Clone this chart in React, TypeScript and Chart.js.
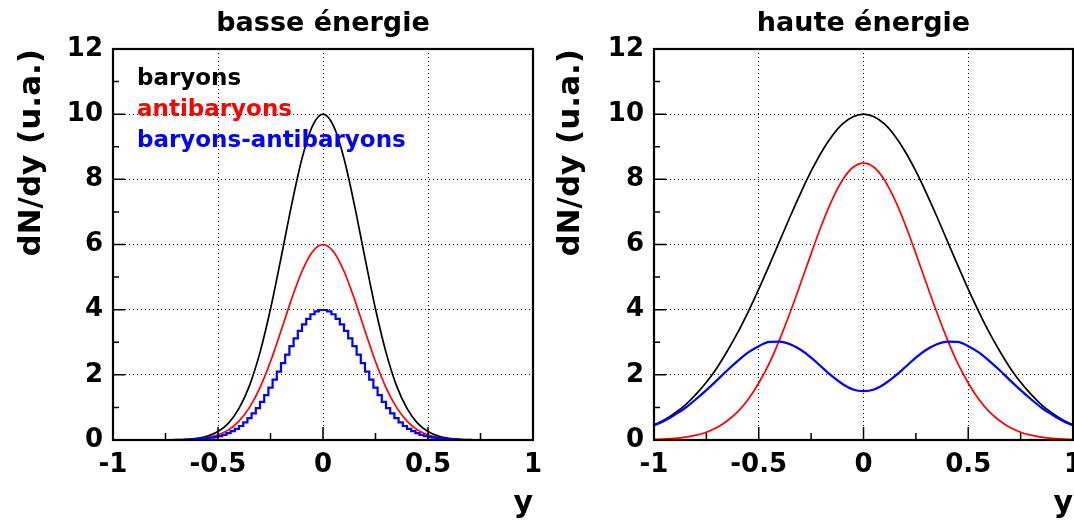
import React, { useEffect, useRef } from "react";
import { Chart, registerables } from "chart.js";

Chart.register(...registerables);

const FONT = "'DejaVu Sans', sans-serif";

// ---------- data ----------
const rapidity = [
  -1, -0.95, -0.9, -0.85, -0.8, -0.75, -0.7, -0.65, -0.6, -0.55, -0.5, -0.45, -0.4, -0.35, -0.3, -0.25, -0.2, -0.15, -0.1, -0.05,
  0, 0.05, 0.1, 0.15, 0.2, 0.25, 0.3, 0.35, 0.4, 0.45, 0.5, 0.55, 0.6, 0.65, 0.7, 0.75, 0.8, 0.85, 0.9, 0.95, 1,
];

// basse énergie
const lowBaryons = [
  0, 0, 0, 0, 0, 0, 0.01, 0.02, 0.05, 0.12, 0.26, 0.52, 0.97, 1.67, 2.69, 4.02, 5.58, 7.2, 8.64, 9.64,
  10, 9.64, 8.64, 7.2, 5.58, 4.02, 2.69, 1.67, 0.97, 0.52, 0.26, 0.12, 0.05, 0.02, 0.01, 0, 0, 0, 0, 0, 0,
];
const lowAntibaryons = [
  0, 0, 0, 0, 0, 0, 0.005, 0.01, 0.03, 0.07, 0.16, 0.31, 0.58, 1.0, 1.61, 2.41, 3.35, 4.32, 5.18, 5.78,
  6, 5.78, 5.18, 4.32, 3.35, 2.41, 1.61, 1.0, 0.58, 0.31, 0.16, 0.07, 0.03, 0.01, 0.005, 0, 0, 0, 0, 0, 0,
];
const lowNetBins = [
  -1, -0.67, -0.65, -0.63, -0.61, -0.59, -0.57, -0.55, -0.53, -0.51, -0.49, -0.47, -0.45, -0.43, -0.41, -0.39, -0.37, -0.35,
  -0.33, -0.31, -0.29, -0.27, -0.25, -0.23, -0.21, -0.19, -0.17, -0.15, -0.13, -0.11, -0.09, -0.07, -0.05, -0.03, -0.01,
  0.01, 0.03, 0.05, 0.07, 0.09, 0.11, 0.13, 0.15, 0.17, 0.19, 0.21, 0.23, 0.25, 0.27, 0.29, 0.31, 0.33, 0.35, 0.37, 0.39,
  0.41, 0.43, 0.45, 0.47, 0.49, 0.51, 0.53, 0.55, 0.57, 0.59, 0.61, 0.63, 0.65, 0.67, 1,
];
const lowNet = [
  0, 0, 0.008, 0.012, 0.018, 0.025, 0.035, 0.05, 0.07, 0.09, 0.12, 0.16, 0.21, 0.27, 0.34, 0.43, 0.54, 0.67,
  0.82, 0.98, 1.17, 1.38, 1.61, 1.85, 2.1, 2.36, 2.62, 2.88, 3.12, 3.35, 3.55, 3.72, 3.86, 3.95, 3.99,
  3.99, 3.95, 3.86, 3.72, 3.55, 3.35, 3.12, 2.88, 2.62, 2.36, 2.1, 1.85, 1.61, 1.38, 1.17, 0.98, 0.82, 0.67, 0.54, 0.43,
  0.34, 0.27, 0.21, 0.16, 0.12, 0.09, 0.07, 0.05, 0.035, 0.025, 0.018, 0.012, 0.008, 0, 0,
];

// haute énergie
const highBaryons = [
  0.46, 0.62, 0.83, 1.08, 1.4, 1.77, 2.21, 2.73, 3.3, 3.94, 4.63, 5.36, 6.11, 6.86, 7.58, 8.25, 8.84, 9.33, 9.7, 9.92,
  10, 9.92, 9.7, 9.33, 8.84, 8.25, 7.58, 6.86, 6.11, 5.36, 4.63, 3.94, 3.3, 2.73, 2.21, 1.77, 1.4, 1.08, 0.83, 0.62, 0.46,
];
const highAntibaryons = [
  0.015, 0.03, 0.05, 0.09, 0.15, 0.24, 0.38, 0.59, 0.87, 1.25, 1.75, 2.35, 3.09, 3.92, 4.81, 5.72, 6.6, 7.37, 7.98, 8.37,
  8.5, 8.37, 7.98, 7.37, 6.6, 5.72, 4.81, 3.92, 3.09, 2.35, 1.75, 1.25, 0.87, 0.59, 0.38, 0.24, 0.15, 0.09, 0.05, 0.03, 0.015,
];
const highNet = [
  0.445, 0.59, 0.78, 0.99, 1.25, 1.53, 1.83, 2.14, 2.43, 2.69, 2.88, 3.01, 3.02, 2.94, 2.77, 2.53, 2.24, 1.96, 1.72, 1.55,
  1.5, 1.55, 1.72, 1.96, 2.24, 2.53, 2.77, 2.94, 3.02, 3.01, 2.88, 2.69, 2.43, 2.14, 1.83, 1.53, 1.25, 0.99, 0.78, 0.59, 0.445,
];

const xMajorTicks = [-1, -0.5, 0, 0.5, 1];
const xTickLabels = ["-1", "-0.5", "0", "0.5", "1"];
const xMinorTicks = [-0.75, -0.25, 0.25, 0.75];
const yMajorTicks = [0, 2, 4, 6, 8, 10, 12];
const yTickLabels = ["0", "2", "4", "6", "8", "10", "12"];
const yMinorTicks = [1, 3, 5, 7, 9, 11];

const seriesNames = ["baryons", "antibaryons", "baryons-antibaryons"];
const seriesColors = ["#000000", "#ff0000", "#0000ff"];

const yTitle = "dN/dy (u.a.)";
const xTitle = "y";

// ---------- helpers ----------
const pts = (xs: number[], ys: number[]) => xs.map((x, i) => ({ x, y: ys[i] }));

const framePlugin = {
  id: "rootFrame",
  afterDatasetsDraw(chart: any) {
    const { ctx, chartArea: a, scales } = chart;
    const sx = scales.x;
    const sy = scales.y;
    ctx.save();
    ctx.strokeStyle = "#000";
    ctx.lineWidth = 1.5;
    ctx.beginPath();
    xMajorTicks.forEach((v) => {
      const p = sx.getPixelForValue(v);
      ctx.moveTo(p, a.bottom);
      ctx.lineTo(p, a.bottom - 13);
    });
    xMinorTicks.forEach((v) => {
      const p = sx.getPixelForValue(v);
      ctx.moveTo(p, a.bottom);
      ctx.lineTo(p, a.bottom - 7);
    });
    yMajorTicks.forEach((v) => {
      const p = sy.getPixelForValue(v);
      ctx.moveTo(a.left, p);
      ctx.lineTo(a.left + 12, p);
    });
    yMinorTicks.forEach((v) => {
      const p = sy.getPixelForValue(v);
      ctx.moveTo(a.left, p);
      ctx.lineTo(a.left + 6, p);
    });
    ctx.stroke();
    ctx.lineWidth = 2.2;
    ctx.strokeRect(a.left, a.top, a.right - a.left, a.bottom - a.top);
    ctx.restore();
  },
};

const textLegendPlugin = {
  id: "textLegend",
  afterDraw(chart: any) {
    if (!chart.options.plugins.textLegend?.show) return;
    const { ctx, chartArea: a } = chart;
    ctx.save();
    ctx.font = `bold 23px ${FONT}`;
    ctx.textBaseline = "alphabetic";
    ctx.textAlign = "left";
    const offs = [36, 67, 98];
    seriesNames.forEach((n, i) => {
      ctx.fillStyle = seriesColors[i];
      ctx.fillText(n, a.left + 24, a.top + offs[i]);
    });
    ctx.restore();
  },
};

type PanelProps = {
  left: number;
  width: number;
  title: string;
  baryons: { x: number; y: number }[];
  anti: { x: number; y: number }[];
  net: { x: number; y: number }[];
  netStepped: boolean;
  yAxisWidth: number;
  padRight: number;
  yTitlePad: number;
  legend: boolean;
};

function Panel(p: PanelProps) {
  const ref = useRef<HTMLCanvasElement | null>(null);
  useEffect(() => {
    if (!ref.current) return;
    const tickFont = { family: FONT, size: 26, weight: "bold" as const };
    const gridColor = (c: any) =>
      c.tick && (c.tick.value === c.scale.min || c.tick.value === c.scale.max) ? "rgba(0,0,0,0)" : "#000";
    const chart = new Chart(ref.current, {
      type: "line",
      data: {
        datasets: [
          {
            label: seriesNames[2],
            data: p.net,
            borderColor: seriesColors[2],
            borderWidth: 2.2,
            pointRadius: 0,
            stepped: p.netStepped ? "middle" : false,
            cubicInterpolationMode: "monotone",
            order: 0,
          },
          {
            label: seriesNames[1],
            data: p.anti,
            borderColor: seriesColors[1],
            borderWidth: 1.7,
            pointRadius: 0,
            cubicInterpolationMode: "monotone",
            order: 1,
          },
          {
            label: seriesNames[0],
            data: p.baryons,
            borderColor: seriesColors[0],
            borderWidth: 1.7,
            pointRadius: 0,
            cubicInterpolationMode: "monotone",
            order: 2,
          },
        ],
      },
      options: {
        responsive: false,
        animation: false,
        events: [],
        layout: { padding: { left: 0, right: p.padRight, top: 0, bottom: 0 }, autoPadding: false },
        plugins: {
          legend: { display: false },
          tooltip: { enabled: false },
          title: {
            display: true,
            text: p.title,
            fullSize: false,
            color: "#000",
            font: { family: FONT, size: 27, weight: "bold" },
            padding: { top: 8, bottom: 8.6 },
          },
          textLegend: { show: p.legend },
        } as any,
        scales: {
          x: {
            type: "linear",
            min: -1,
            max: 1,
            afterFit(s: any) {
              s.height = 82;
            },
            afterBuildTicks(s: any) {
              s.ticks = xMajorTicks.map((v) => ({ value: v }));
            },
            ticks: {
              callback: (v: any) => xTickLabels[xMajorTicks.indexOf(Number(v))],
              font: tickFont,
              color: "#000",
              padding: 10,
              maxRotation: 0,
              autoSkip: false,
            },
            grid: { drawTicks: false, color: gridColor, lineWidth: 1 },
            border: { display: false, dash: [1, 3] },
            title: {
              display: true,
              text: xTitle,
              align: "end",
              color: "#000",
              font: { family: FONT, size: 30, weight: "bold" },
              padding: { top: 0, bottom: 0 },
            },
          },
          y: {
            type: "linear",
            min: 0,
            max: 12,
            afterFit(s: any) {
              s.width = p.yAxisWidth;
            },
            afterBuildTicks(s: any) {
              s.ticks = yMajorTicks.map((v) => ({ value: v }));
            },
            ticks: {
              callback: (v: any) => yTickLabels[yMajorTicks.indexOf(Number(v))],
              font: tickFont,
              color: "#000",
              padding: 10,
            },
            grid: { drawTicks: false, color: gridColor, lineWidth: 1 },
            border: { display: false, dash: [1, 3] },
            title: {
              display: true,
              text: yTitle,
              align: "end",
              color: "#000",
              font: { family: FONT, size: 31, weight: "bold" },
              padding: { top: p.yTitlePad, bottom: 0 },
            },
          },
        },
      } as any,
      plugins: [framePlugin, textLegendPlugin],
    });
    return () => chart.destroy();
  }, []);
  return (
    <canvas
      ref={ref}
      width={p.width}
      height={522}
      style={{ position: "absolute", left: p.left, top: 0, width: p.width, height: 522, display: "block" }}
    />
  );
}

export default function App() {
  return (
    <div
      style={{
        position: "fixed",
        left: 0,
        top: 0,
        width: 1074,
        height: 522,
        overflow: "hidden",
        background: "#fff",
      }}
    >
      <Panel
        left={0}
        width={560}
        title="basse énergie"
        baryons={pts(rapidity, lowBaryons)}
        anti={pts(rapidity, lowAntibaryons)}
        net={pts(lowNetBins, lowNet)}
        netStepped={true}
        yAxisWidth={113}
        padRight={27}
        yTitlePad={13}
        legend={true}
      />
      <Panel
        left={537}
        width={600}
        title="haute énergie"
        baryons={pts(rapidity, highBaryons)}
        anti={pts(rapidity, highAntibaryons)}
        net={pts(rapidity, highNet)}
        netStepped={false}
        yAxisWidth={117}
        padRight={64}
        yTitlePad={15}
        legend={false}
      />
    </div>
  );
}
